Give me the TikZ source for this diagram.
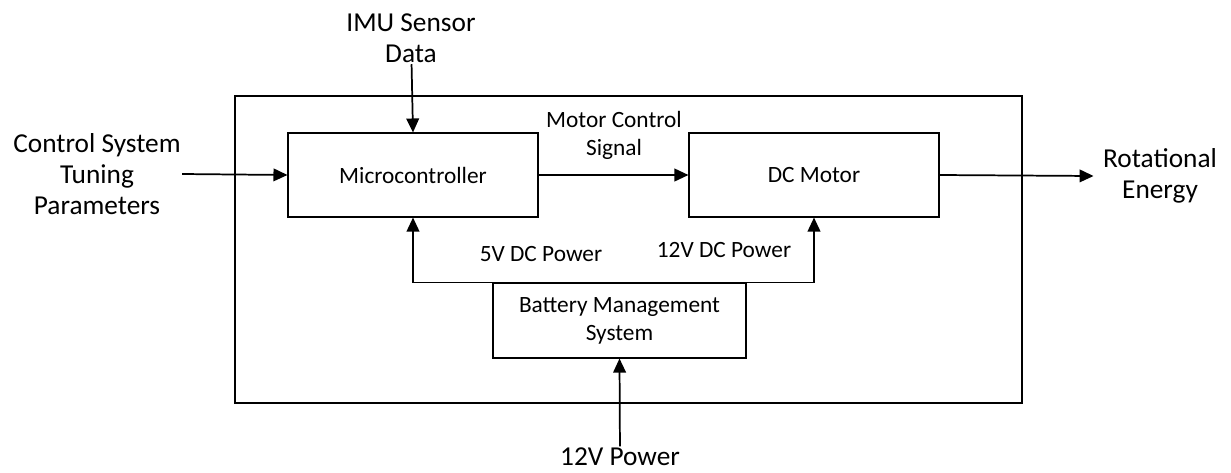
\documentclass[tikz,border=0pt]{standalone}
\usepackage{fontspec}
\setmainfont{Carlito}
\usepackage{tikz}
\usetikzlibrary{arrows.meta, positioning, calc}

\begin{document}
\begin{tikzpicture}[
  x=0.75pt, y=-0.75pt,
  blk/.style={draw, line width=0.8pt, minimum width=187.5pt, minimum height=63pt,
              font=\fontsize{17.5}{21}\selectfont, align=center, inner sep=2pt},
  lbl/.style={font=\fontsize{20.5}{23.5}\selectfont, align=center, inner sep=1pt},
  sml/.style={font=\fontsize{17.5}{21}\selectfont, align=center, inner sep=1pt},
  arr/.style={-{Triangle[length=10.5pt,width=9.5pt]}, line width=1.3pt},
]
\useasboundingbox (0,0) rectangle (1231,472);
% system boundary
\node[draw, line width=1pt, minimum width=590.25pt, minimum height=230.25pt] (sys) at (628.5,249.5) {};

% blocks
\node[blk] (mcu) at (413,175) {Microcontroller};
\node[blk] (motor) at (814,175) {DC Motor};
\node[blk, minimum width=189.75pt, minimum height=56.25pt] (bms) at (619.5,320.5)
  {Battery Management\\System};

% outside inputs and outputs
\node[lbl] (imu) at (411,38) {IMU Sensor\\Data};
\node[lbl] (tune) at (97,174) {Control System\\Tuning\\Parameters};
\node[lbl] (rot) at (1160,176) {Rotational\\Energy};
\node[lbl] (pin) at (620,457) {12V Power};

% signal labels
\node[sml] (mcs) at (614,135) {Motor Control\\Signal};
\node[sml] (p5) at (541,254) {5V DC Power};
\node[sml] (p12) at (724,250) {12V DC Power};

% connectors
\draw[arr] (imu) -- (mcu.north);
\draw[arr] (tune.east) -- (mcu.west);
\draw[arr] (mcu) -- (motor);
\draw[arr] (motor.east) -- ([xshift=-6pt]rot.west);
\draw[arr] (bms.north) -| (mcu.south);
\draw[arr] (bms.north) -| (motor.south);
\draw[arr] (pin) -- (bms.south);
\end{tikzpicture}
\end{document}
